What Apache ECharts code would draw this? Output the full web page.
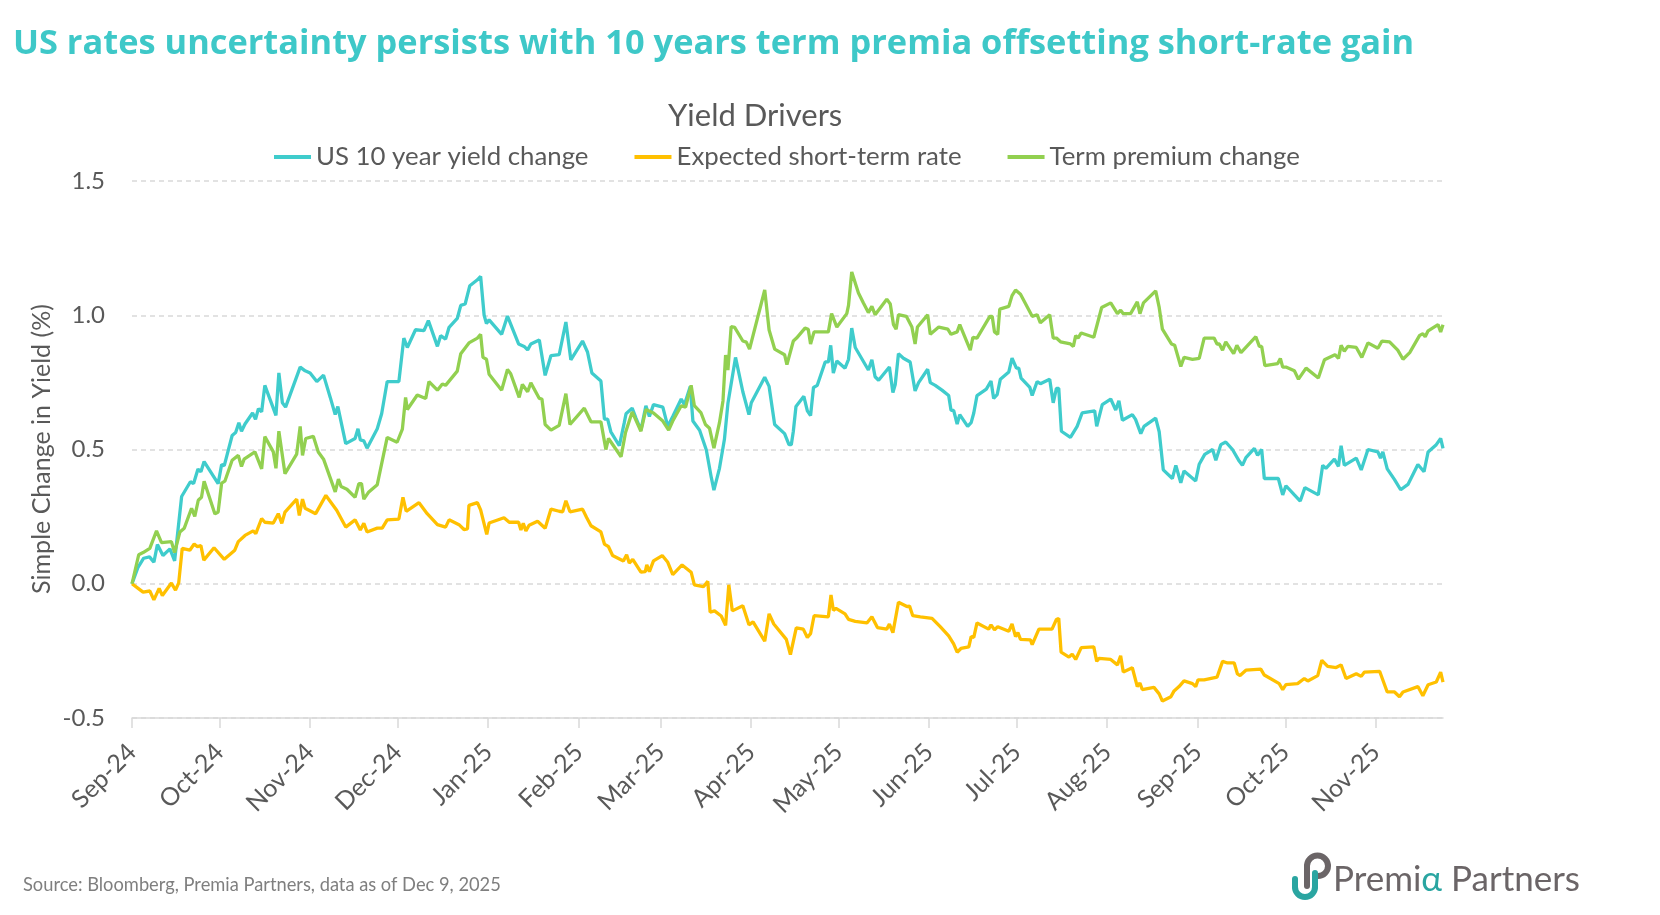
<!DOCTYPE html>
<html><head><meta charset="utf-8">
<script src="https://cdn.jsdelivr.net/npm/echarts@6/dist/echarts.min.js"></script>
<style>html,body{margin:0;padding:0;background:#fff}#c{width:1660px;height:915px}</style>
</head><body><div id="c"></div>
<script>
const chartTitle = 'US rates uncertainty persists with 10 years term premia offsetting short-rate gain';
const subTitle = 'Yield Drivers';
const yAxisName = 'Simple Change in Yield (%)';
const sourceText = 'Source: Bloomberg, Premia Partners, data as of Dec 9, 2025';
const seriesNames = ['US 10 year yield change', 'Expected short-term rate', 'Term premium change'];
const startDate = '2024-09-16';
const lastDay = 449;
const tickDates = ['2024-09-16','2024-10-16','2024-11-16','2024-12-16','2025-01-16','2025-02-16','2025-03-16','2025-04-16','2025-05-16','2025-06-16','2025-07-16','2025-08-16','2025-09-16','2025-10-16','2025-11-16'];
const tickLabels = ['Sep-24','Oct-24','Nov-24','Dec-24','Jan-25','Feb-25','Mar-25','Apr-25','May-25','Jun-25','Jul-25','Aug-25','Sep-25','Oct-25','Nov-25'];
const yTicks = { min: -0.5, max: 1.5, step: 0.5 };

// [days since start, value %]
const us10y = [[0,0],[2,0.06],[4,0.095],[6,0.1],[7.5,0.08],[8.7,0.146],[10.6,0.105],[13,0.13],[14.6,0.085],[17,0.325],[20,0.38],[21.1,0.373],[22.6,0.427],[23.6,0.417],[24.7,0.455],[29.5,0.373],[30.7,0.444],[31.6,0.44],[34.3,0.552],[35.5,0.563],[36.6,0.6],[37.5,0.568],[38.7,0.595],[41.3,0.636],[42.3,0.612],[43.3,0.652],[44.4,0.64],[45.5,0.739],[49.3,0.627],[50.3,0.785],[51.5,0.674],[52.6,0.658],[57.6,0.807],[59.3,0.793],[61,0.785],[63.3,0.753],[65.6,0.777],[67.9,0.694],[69.6,0.63],[70.5,0.66],[73.2,0.522],[76.4,0.541],[77.4,0.577],[78.2,0.536],[79.4,0.532],[80.5,0.505],[84,0.577],[85.5,0.633],[87.4,0.753],[91.4,0.753],[93.1,0.915],[94.3,0.88],[97.1,0.946],[100,0.943],[101.5,0.98],[104.6,0.884],[105.7,0.924],[107.4,0.911],[108.6,0.955],[111.4,0.988],[112.6,1.037],[114.1,1.042],[115.7,1.11],[118.3,1.132],[119.4,1.145],[120.6,1.0],[121.4,0.969],[122.3,0.983],[126.6,0.929],[128.6,0.997],[132.4,0.893],[134.3,0.884],[135.5,0.871],[136.6,0.893],[139.5,0.908],[141.5,0.776],[143.5,0.85],[146.3,0.853],[148.6,0.975],[150.3,0.834],[154.3,0.904],[156,0.863],[157.5,0.785],[160.6,0.755],[161.8,0.613],[162.9,0.613],[164,0.566],[166.9,0.514],[168.6,0.6],[169.2,0.633],[171.3,0.654],[172.6,0.617],[174.3,0.572],[176,0.663],[177.2,0.623],[178.6,0.667],[181.8,0.658],[183.5,0.586],[185.2,0.623],[188.1,0.688],[189.2,0.667],[191.2,0.735],[192.1,0.606],[194.4,0.572],[196.7,0.498],[198.4,0.396],[199.3,0.349],[201.2,0.43],[202.9,0.538],[204.1,0.672],[206.7,0.843],[209.2,0.715],[211.3,0.63],[212.1,0.674],[216.7,0.769],[218.2,0.735],[220.1,0.593],[223.5,0.559],[225,0.518],[225.8,0.518],[226.5,0.568],[227.4,0.66],[230.1,0.698],[231.3,0.644],[232.4,0.626],[233.4,0.731],[234.7,0.739],[237.4,0.826],[238.5,0.826],[239.3,0.888],[240.2,0.785],[241.4,0.83],[244.2,0.803],[245.4,0.836],[246.5,0.952],[247.7,0.88],[252.2,0.796],[253.4,0.834],[254.5,0.771],[255.7,0.758],[259.4,0.807],[260.6,0.712],[261.4,0.742],[262.5,0.857],[264.2,0.84],[266.5,0.826],[268.2,0.718],[269.4,0.749],[272.5,0.799],[273.4,0.749],[275.1,0.739],[277.4,0.721],[279.7,0.701],[280.5,0.646],[281.4,0.646],[282.6,0.595],[283.5,0.63],[286.2,0.586],[287.4,0.6],[288.3,0.636],[289.4,0.701],[292.6,0.725],[294.2,0.755],[295.1,0.69],[296.3,0.704],[297.4,0.762],[300.3,0.789],[301.4,0.84],[302.9,0.803],[303.7,0.803],[304.5,0.766],[307.5,0.731],[308.3,0.701],[310,0.753],[311.1,0.745],[314.3,0.762],[315.5,0.674],[316.6,0.728],[317.4,0.728],[318.3,0.568],[321.4,0.545],[323.7,0.586],[325.4,0.636],[329.7,0.644],[330.4,0.586],[332.3,0.667],[335.2,0.688],[336.9,0.647],[338,0.681],[339.2,0.609],[342.6,0.63],[343.7,0.612],[345.5,0.559],[346.6,0.586],[350.6,0.617],[351.8,0.566],[353.2,0.424],[356.3,0.392],[357.5,0.441],[359.2,0.376],[360.3,0.42],[364.3,0.383],[365.5,0.445],[367.4,0.482],[370.1,0.5],[371.2,0.46],[372.9,0.518],[374.6,0.528],[376.9,0.5],[379.2,0.457],[380.3,0.441],[381.5,0.47],[384.4,0.504],[385.5,0.478],[386.9,0.5],[387.8,0.392],[392.6,0.392],[394.1,0.331],[395.2,0.365],[398.1,0.331],[400.1,0.308],[401.7,0.358],[406.3,0.331],[407.8,0.441],[408.9,0.43],[411.8,0.464],[413.2,0.437],[414.1,0.514],[415.2,0.441],[419.3,0.468],[421,0.424],[423.3,0.5],[426.7,0.491],[427.6,0.468],[428.4,0.491],[429.9,0.428],[432.4,0.388],[434.5,0.35],[437,0.37],[440.4,0.444],[442.5,0.417],[443.9,0.491],[446.7,0.518],[448.2,0.541],[449,0.504]];

const shortRate = [[0,0],[2.1,-0.017],[3.8,-0.031],[6.1,-0.027],[7.5,-0.06],[9.3,-0.017],[10.4,-0.044],[13.5,0.003],[14.9,-0.024],[16,0.003],[17.2,0.132],[19.8,0.125],[21.3,0.148],[22.4,0.138],[23.6,0.142],[24.6,0.088],[28.1,0.134],[31.6,0.091],[35.2,0.125],[36.4,0.157],[38.7,0.18],[41.5,0.197],[42.4,0.187],[44.4,0.243],[45.5,0.229],[48.4,0.226],[50.1,0.261],[51.3,0.225],[52.4,0.267],[54.7,0.295],[56.4,0.315],[57.3,0.254],[58.4,0.315],[59.3,0.281],[62.9,0.261],[66.4,0.329],[70.1,0.274],[73.2,0.211],[76.4,0.238],[78.2,0.2],[79.4,0.225],[80.5,0.193],[84,0.207],[85.7,0.207],[87.4,0.238],[91.4,0.241],[92.8,0.322],[93.9,0.27],[98.3,0.302],[101.1,0.261],[104.6,0.22],[107.4,0.211],[108.6,0.238],[112,0.22],[113.7,0.202],[114.9,0.204],[115.4,0.292],[118.3,0.302],[119.4,0.275],[121.5,0.184],[122.3,0.226],[127.4,0.246],[129.2,0.229],[132.4,0.229],[133.2,0.2],[134,0.225],[134.9,0.197],[136,0.218],[138.9,0.233],[141.5,0.207],[143.5,0.278],[146.3,0.27],[147.5,0.268],[148.6,0.309],[150,0.268],[154.3,0.278],[155.7,0.247],[157.2,0.216],[160.6,0.193],[161.8,0.148],[163.2,0.138],[164.6,0.105],[168.3,0.085],[169.4,0.108],[170.3,0.077],[171.5,0.091],[174.3,0.043],[175.8,0.045],[176.3,0.07],[177.2,0.045],[178.6,0.085],[181.6,0.105],[183.5,0.08],[185.2,0.034],[188.4,0.07],[191.5,0.043],[192.6,-0.004],[195.7,-0.011],[197.2,0.009],[198,-0.106],[199.5,-0.101],[201.8,-0.12],[203.3,-0.155],[204.4,-0.004],[205.6,-0.101],[209.2,-0.082],[211.3,-0.153],[212.7,-0.142],[216.7,-0.214],[218.2,-0.112],[219.8,-0.15],[224.1,-0.207],[225.5,-0.264],[227.5,-0.164],[229.9,-0.169],[231.3,-0.2],[232.4,-0.186],[233.6,-0.119],[238.5,-0.123],[239.4,-0.042],[240.2,-0.099],[241.1,-0.092],[244.2,-0.112],[245.4,-0.133],[247.7,-0.14],[251.7,-0.146],[253.4,-0.123],[255.3,-0.163],[258.5,-0.169],[259.4,-0.15],[260.6,-0.182],[262.5,-0.069],[265.4,-0.085],[266.3,-0.083],[267.4,-0.119],[270,-0.123],[274,-0.129],[276.8,-0.16],[279.7,-0.194],[281.4,-0.224],[282.6,-0.255],[283.9,-0.241],[286.6,-0.235],[287.4,-0.197],[288.3,-0.2],[289.4,-0.146],[293.4,-0.169],[294.2,-0.153],[295.4,-0.172],[296.5,-0.16],[300.3,-0.177],[301.4,-0.15],[302.6,-0.197],[303.4,-0.182],[304.3,-0.207],[307.7,-0.209],[308.3,-0.227],[310.6,-0.169],[315.1,-0.169],[316.6,-0.133],[317.4,-0.129],[318.2,-0.255],[320.9,-0.273],[322,-0.262],[323.2,-0.282],[325.1,-0.238],[329.4,-0.235],[330.4,-0.289],[331.2,-0.278],[335.2,-0.282],[337.5,-0.302],[338.6,-0.268],[339.5,-0.329],[342.6,-0.313],[344.3,-0.383],[345.2,-0.37],[346,-0.394],[350,-0.386],[351.8,-0.41],[352.9,-0.437],[355.8,-0.421],[356.9,-0.399],[358.6,-0.383],[360.3,-0.362],[363.2,-0.372],[364.3,-0.383],[365.1,-0.358],[367.2,-0.358],[371.6,-0.348],[373.5,-0.289],[375.2,-0.295],[377.5,-0.295],[378.6,-0.336],[379.5,-0.342],[381.5,-0.322],[386.6,-0.318],[387.8,-0.34],[392.9,-0.372],[394.1,-0.394],[395.2,-0.376],[399.2,-0.372],[401.5,-0.353],[402.7,-0.362],[406.1,-0.342],[407.5,-0.285],[409.5,-0.308],[412.4,-0.312],[414.1,-0.302],[415.8,-0.353],[419.3,-0.335],[421,-0.345],[422.1,-0.329],[427.3,-0.326],[429.9,-0.403],[432.4,-0.403],[434.1,-0.421],[435.3,-0.403],[440.4,-0.383],[442.1,-0.417],[443.9,-0.376],[446.7,-0.366],[448.2,-0.329],[449,-0.366]];

const termPremium = [[0,0],[2.3,0.108],[3.8,0.116],[6.1,0.132],[8.4,0.197],[10.1,0.153],[13.5,0.157],[14.6,0.116],[16.4,0.193],[17.9,0.207],[20.4,0.281],[21.5,0.251],[22.7,0.311],[23.8,0.322],[24.7,0.382],[28.4,0.26],[29.5,0.267],[30.7,0.375],[31.8,0.382],[34.3,0.46],[36.4,0.478],[37.5,0.437],[38.4,0.464],[42.1,0.491],[44.4,0.428],[45.5,0.548],[48.4,0.491],[49.3,0.43],[50.3,0.568],[52.4,0.41],[56.4,0.483],[57.6,0.586],[58.4,0.478],[59.5,0.541],[62.1,0.549],[63.8,0.491],[65.6,0.464],[69.6,0.342],[70.7,0.39],[71.6,0.362],[73.6,0.352],[76.4,0.322],[77.7,0.373],[78.6,0.373],[79.4,0.315],[81.1,0.342],[84,0.369],[87.4,0.545],[90.8,0.527],[92.6,0.576],[93.7,0.694],[94.3,0.649],[97.7,0.703],[100.6,0.69],[101.7,0.753],[104.6,0.721],[106.3,0.744],[107.4,0.739],[111.4,0.792],[112.6,0.857],[115.4,0.897],[118.3,0.915],[119.4,0.929],[120.2,0.843],[121.4,0.836],[122.3,0.78],[126.6,0.721],[128.6,0.798],[129.7,0.782],[132.6,0.694],[133.7,0.742],[135.5,0.715],[136.6,0.748],[139.5,0.69],[140.4,0.688],[141.5,0.593],[143.5,0.572],[146.3,0.59],[148.6,0.708],[150,0.593],[154.9,0.654],[157.2,0.603],[160.6,0.603],[162.3,0.5],[163.2,0.541],[167.5,0.473],[169,0.562],[171.3,0.64],[174.3,0.568],[176,0.649],[178.6,0.636],[181.8,0.606],[183.8,0.572],[185.2,0.606],[188.1,0.663],[189.6,0.658],[191.5,0.739],[192.6,0.663],[194.9,0.636],[196.4,0.593],[197.8,0.579],[199.3,0.505],[201.2,0.6],[202.4,0.681],[203.3,0.852],[204.1,0.796],[205.2,0.958],[206.4,0.955],[209.2,0.904],[210.4,0.9],[211.5,0.874],[216.7,1.094],[218.2,0.945],[220.1,0.874],[223.5,0.853],[224.3,0.816],[226.5,0.904],[227.6,0.915],[230.5,0.952],[231.6,0.948],[232.4,0.893],[233.6,0.938],[238.5,0.938],[239.6,1.006],[241.4,0.956],[244.8,1.006],[245.4,1.037],[246.5,1.161],[248.8,1.083],[250.5,1.046],[252.2,1.01],[253.4,1.033],[254.5,1.002],[258.5,1.06],[259.7,1.042],[260.8,0.965],[261.7,0.948],[262.5,1.002],[265.2,0.996],[267.1,0.956],[268.2,0.893],[269,0.956],[272.5,1.002],[273.4,0.929],[276.3,0.956],[279.4,0.948],[280.5,0.929],[282.6,0.938],[283.5,0.965],[287.1,0.87],[288,0.918],[289.4,0.915],[293.8,0.996],[294.6,0.996],[295.4,0.938],[296.5,0.929],[297.2,1.023],[300.3,1.033],[301.4,1.073],[302.6,1.094],[304.3,1.078],[308.3,0.996],[310,1.002],[311.1,0.972],[314.3,1.002],[315.5,0.915],[316.6,0.915],[318,0.901],[321.4,0.893],[322.4,0.884],[323.2,0.924],[324,0.915],[325.1,0.934],[329.4,0.918],[332.1,1.029],[335.2,1.046],[337.5,1.006],[338.6,1.019],[339.5,1.006],[342,1.006],[344.3,1.05],[345.2,1.006],[346.4,1.046],[350.6,1.091],[351.8,1.029],[352.9,0.948],[356,0.893],[357.1,0.888],[359.2,0.809],[360.3,0.843],[363.2,0.836],[365.5,0.839],[367.2,0.915],[370.6,0.915],[371.6,0.893],[372.4,0.893],[373.5,0.87],[374.6,0.901],[377.3,0.857],[378.4,0.888],[379.8,0.861],[384.9,0.92],[386.1,0.884],[386.9,0.884],[388,0.812],[392.4,0.82],[393.3,0.839],[394.1,0.807],[395.2,0.807],[398.1,0.793],[399.5,0.762],[402.1,0.803],[406.3,0.766],[408.4,0.834],[412,0.853],[413.2,0.839],[414.1,0.888],[415.2,0.866],[416.4,0.884],[419.3,0.88],[421.2,0.843],[423.3,0.897],[426.7,0.877],[428.1,0.904],[430.7,0.901],[433.5,0.87],[435.3,0.836],[437.6,0.861],[441,0.925],[442.1,0.931],[442.9,0.92],[443.9,0.942],[447.3,0.965],[448.2,0.938],[449,0.965]];

const colors = ['#3FCCCC', '#FFC000', '#92D050'];
const FONT = 'Lato';

const DAY = 86400000;
function parseD(s) { const p = s.split('-').map(Number); return new Date(p[0], p[1] - 1, p[2]).getTime(); }
const START = parseD(startDate);
const END = START + lastDay * DAY;
const tickTs = tickDates.map(parseD);
const labelOf = {};
tickTs.forEach((t, i) => { labelOf[t] = tickLabels[i]; });
const toXY = arr => arr.map(p => [START + p[0] * DAY, p[1]]);

const grayLogo = '#6B6567', tealLogo = '#2AA5A1';
const chart = echarts.init(document.getElementById('c'), null, { renderer: 'canvas' });
chart.setOption({
  backgroundColor: '#ffffff',
  animation: false,
  textStyle: { fontFamily: FONT },
  title: [
    { text: chartTitle, left: 13, top: 27, padding: 0, textStyle: { fontFamily: 'Open Sans', fontSize: 34.4, fontWeight: 'bold', color: '#3EC8C8' } },
    { text: subTitle, left: 663, top: 95, textStyle: { fontFamily: FONT, fontSize: 31, fontWeight: 'normal', color: '#595959' } }
  ],
  legend: {
    data: seriesNames, left: 269, top: 139, itemWidth: 37, itemHeight: 4, itemGap: 46, icon: 'rect',
    textStyle: { fontFamily: FONT, fontSize: 25.8, color: '#595959' }
  },
  grid: { left: 132, right: 217, top: 181, bottom: 197, containLabel: false },
  xAxis: [
    {
      type: 'value', min: START, max: END, position: 'bottom',
      axisLine: { show: false }, axisTick: { show: false }, splitLine: { show: false },
      axisLabel: {
        customValues: tickTs, rotate: 45, margin: 30, fontFamily: FONT, fontSize: 25, color: '#595959',
        formatter: v => labelOf[v] || ''
      }
    },
    {
      type: 'value', min: START, max: END, position: 'bottom',
      axisLine: { show: true, onZero: true, lineStyle: { color: '#D9D9D9', width: 1.5 } },
      axisTick: { show: true, customValues: tickTs, length: 10, lineStyle: { color: '#D9D9D9', width: 1.5 } },
      axisLabel: { show: false }, splitLine: { show: false }
    }
  ],
  yAxis: {
    type: 'value', min: yTicks.min, max: yTicks.max, interval: yTicks.step,
    axisLine: { show: false }, axisTick: { show: false },
    splitLine: { show: true, lineStyle: { color: '#D9D9D9', width: 1.5, type: [5, 4] } },
    axisLabel: { margin: 27, fontFamily: FONT, fontSize: 24, color: '#595959', formatter: v => v.toFixed(1) }
  },
  series: [
    { name: seriesNames[0], type: 'line', data: toXY(us10y), showSymbol: false, symbol: 'none', lineStyle: { width: 3.3, color: colors[0] }, itemStyle: { color: colors[0] } },
    { name: seriesNames[1], type: 'line', data: toXY(shortRate), showSymbol: false, symbol: 'none', lineStyle: { width: 3.3, color: colors[1] }, itemStyle: { color: colors[1] } },
    { name: seriesNames[2], type: 'line', data: toXY(termPremium), showSymbol: false, symbol: 'none', lineStyle: { width: 3.3, color: colors[2] }, itemStyle: { color: colors[2] } }
  ],
  graphic: [
    { type: 'text', x: 42, y: 449, rotation: Math.PI / 2, style: { text: yAxisName, fontFamily: FONT, fontSize: 25, fill: '#595959', align: 'center', verticalAlign: 'middle' } },
    { type: 'text', x: 23, y: 885, style: { text: sourceText, fontFamily: FONT, fontSize: 18.3, fill: '#7F7F7F', align: 'left', verticalAlign: 'middle' } },
    { type: 'line', shape: { x1: 1307, y1: 886, x2: 1307, y2: 866 }, style: { stroke: grayLogo, lineWidth: 6, lineCap: 'round' } },
    { type: 'arc', shape: { cx: 1317.5, cy: 866, r: 10.5, startAngle: Math.PI, endAngle: Math.PI * 2, clockwise: true }, style: { fill: 'none', stroke: grayLogo, lineWidth: 6 } },
    { type: 'arc', shape: { cx: 1318, cy: 866, r: 10, startAngle: 0, endAngle: Math.PI / 2, clockwise: true }, style: { fill: 'none', stroke: grayLogo, lineWidth: 6, lineCap: 'round' } },
    { type: 'line', shape: { x1: 1315, y1: 873, x2: 1315, y2: 887 }, style: { stroke: tealLogo, lineWidth: 6, lineCap: 'round' } },
    { type: 'arc', shape: { cx: 1305, cy: 887, r: 10, startAngle: 0, endAngle: Math.PI, clockwise: true }, style: { fill: 'none', stroke: tealLogo, lineWidth: 6 } },
    { type: 'line', shape: { x1: 1295, y1: 887, x2: 1295, y2: 879 }, style: { stroke: tealLogo, lineWidth: 6, lineCap: 'round' } },
    { type: 'text', x: 1333, y: 880, style: {
      text: '{g|Premi}{t|α}{g| Partners}', verticalAlign: 'middle', align: 'left',
      rich: { g: { fontFamily: FONT, fontSize: 35, fill: grayLogo, color: grayLogo }, t: { fontFamily: FONT, fontSize: 35, fill: tealLogo, color: tealLogo } }
    } }
  ]
});
</script></body></html>
